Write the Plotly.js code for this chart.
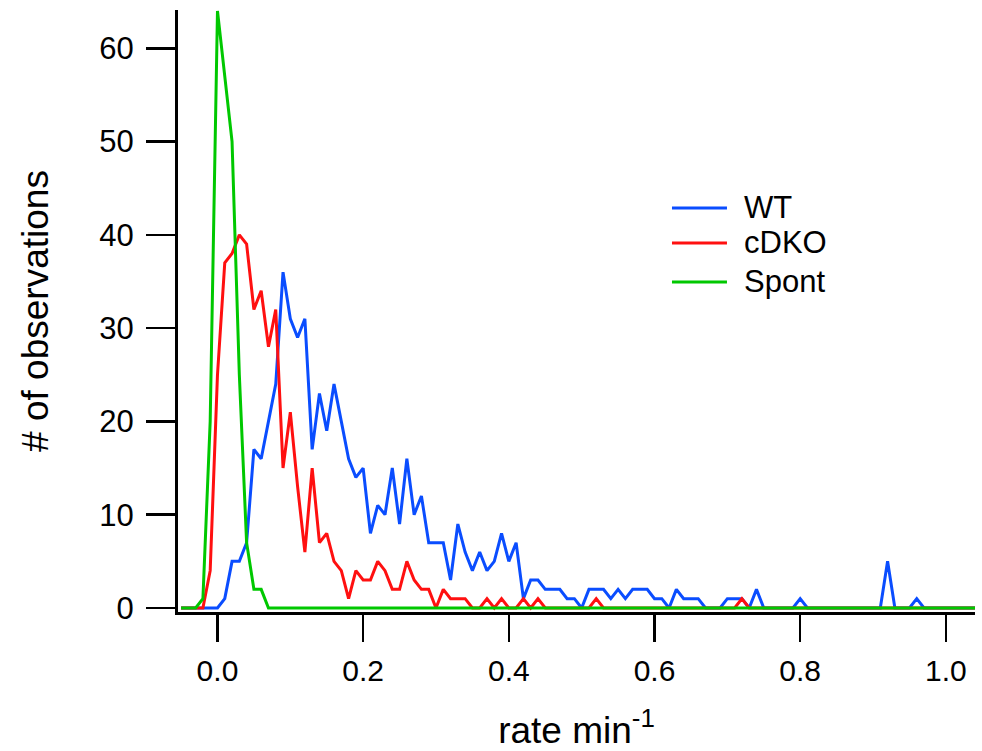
<!DOCTYPE html>
<html>
<head>
<meta charset="utf-8">
<script src="https://cdn.plot.ly/plotly-3.0.1.min.js"></script>
<style>html,body{margin:0;padding:0;background:#fff;}#chart{width:982px;height:751px;}</style>
</head>
<body>
<div id="chart"></div>
<script>
// Histogram bins: first bin position and bin width (rate, min^-1)
const binStart = -0.05;
const binWidth = 0.01;

// Counts per bin, from -0.05 to 1.04
const wtCounts = [
  0, 0, 0, 0, 0,
  0, 1, 5, 5, 7, 17, 16, 20, 24, 36,
  31, 29, 31, 17, 23, 19, 24, 20, 16, 14,
  15, 8, 11, 10, 15, 9, 16, 10, 12, 7,
  7, 7, 3, 9, 6, 4, 6, 4, 5, 8,
  5, 7, 1, 3, 3, 2, 2, 2, 1, 1,
  0, 2, 2, 2, 1, 2, 1, 2, 2, 2,
  1, 1, 0, 2, 1, 1, 1, 0, 0, 0,
  1, 1, 1, 0, 2, 0, 0, 0, 0, 0,
  1, 0, 0, 0, 0, 0, 0, 0, 0, 0,
  0, 0, 5, 0, 0, 0, 1, 0, 0, 0,
  0, 0, 0, 0, 0
];
const cdkoCounts = [
  0, 0, 0, 0, 4,
  25, 37, 38, 40, 39, 32, 34, 28, 32, 15,
  21, 13, 6, 15, 7, 8, 5, 4, 1, 4,
  3, 3, 5, 4, 2, 2, 5, 3, 2, 2,
  0, 2, 1, 1, 1, 0, 0, 1, 0, 1,
  0, 0, 1, 0, 1, 0, 0, 0, 0, 0,
  0, 0, 1, 0, 0, 0, 0, 0, 0, 0,
  0, 0, 0, 0, 0, 0, 0, 0, 0, 0,
  0, 0, 1, 0, 0, 0, 0, 0, 0, 0,
  0, 0, 0, 0, 0, 0, 0, 0, 0, 0,
  0, 0, 0, 0, 0, 0, 0, 0, 0, 0,
  0, 0, 0, 0, 0
];
const spontCounts = [
  0, 0, 0, 1, 20,
  64, 57, 50, 25, 7, 2, 2, 0, 0, 0,
  0, 0, 0, 0, 0, 0, 0, 0, 0, 0,
  0, 0, 0, 0, 0, 0, 0, 0, 0, 0,
  0, 0, 0, 0, 0, 0, 0, 0, 0, 0,
  0, 0, 0, 0, 0, 0, 0, 0, 0, 0,
  0, 0, 0, 0, 0, 0, 0, 0, 0, 0,
  0, 0, 0, 0, 0, 0, 0, 0, 0, 0,
  0, 0, 0, 0, 0, 0, 0, 0, 0, 0,
  0, 0, 0, 0, 0, 0, 0, 0, 0, 0,
  0, 0, 0, 0, 0, 0, 0, 0, 0, 0,
  0, 0, 0, 0, 0
];

const seriesNames = ["WT", "cDKO", "Spont"];
const xTickVals = [0.0, 0.2, 0.4, 0.6, 0.8, 1.0];
const yTickVals = [0, 10, 20, 30, 40, 50, 60];

const colors = ["#0a4dff", "#ff1010", "#00c800"];
const allCounts = [wtCounts, cdkoCounts, spontCounts];

const traces = allCounts.map((c, i) => ({
  type: "scatter",
  mode: "lines",
  name: seriesNames[i],
  x0: binStart,
  dx: binWidth,
  y: c,
  line: {color: colors[i], width: 3},
  showlegend: false
}));

const fontFam = "Liberation Sans, Arial, Helvetica, sans-serif";

// Legend drawn in paper coordinates (line sample + label)
const legX0 = 0.6198, legX1 = 0.6888, legTextX = 0.7077;
const legY = [0.6711, 0.6130, 0.5482];
const shapes = seriesNames.map((n, i) => ({
  type: "line", xref: "paper", yref: "paper",
  x0: legX0, x1: legX1, y0: legY[i], y1: legY[i],
  line: {color: colors[i], width: 3}
}));
const annotations = seriesNames.map((n, i) => ({
  xref: "paper", yref: "paper", x: legTextX, y: legY[i],
  xanchor: "left", yanchor: "middle", showarrow: false,
  text: n, font: {family: fontFam, size: 31, color: "#000"}
}));

const layout = {
  width: 982,
  height: 751,
  margin: {l: 178, r: 7, t: 10, b: 139},
  paper_bgcolor: "#fff",
  plot_bgcolor: "#fff",
  font: {family: fontFam, size: 30, color: "#000"},
  showlegend: false,
  shapes: shapes,
  annotations: annotations,
  xaxis: {
    range: [-0.0542, 1.04],
    tickvals: xTickVals,
    tickformat: ".1f",
    ticks: "outside",
    ticklen: 27,
    tickwidth: 2.5,
    tickcolor: "#000",
    showline: true,
    linecolor: "#000",
    linewidth: 3,
    showgrid: false,
    zeroline: false,
    ticklabelstandoff: 3,
    tickfont: {family: fontFam, size: 30},
    title: {text: "rate min<sup>-1</sup>", font: {family: fontFam, size: 37}, standoff: 34}
  },
  yaxis: {
    range: [-0.43, 64.1],
    tickvals: yTickVals,
    ticks: "outside",
    ticklen: 29,
    tickwidth: 2.5,
    tickcolor: "#000",
    showline: true,
    linecolor: "#000",
    linewidth: 3,
    showgrid: false,
    zeroline: false,
    ticklabelstandoff: 6,
    tickfont: {family: fontFam, size: 31},
    title: {text: "# of observations", font: {family: fontFam, size: 37}, standoff: 40}
  }
};

Plotly.newPlot("chart", traces, layout, {displayModeBar: false, staticPlot: true});
</script>
</body>
</html>
